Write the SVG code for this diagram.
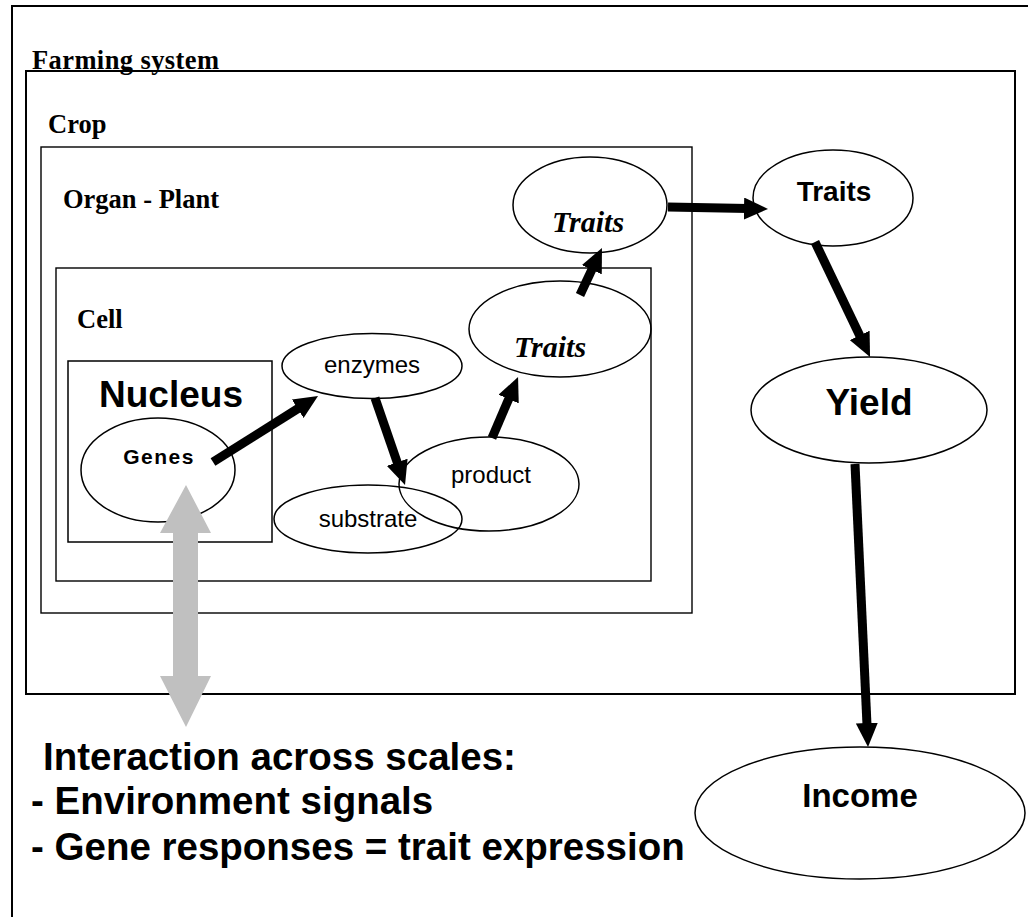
<svg xmlns="http://www.w3.org/2000/svg" width="1028" height="917" viewBox="0 0 1028 917">
  <defs>
    <style>
      .frame { fill: none; stroke: #000; }
      .node { fill: none; stroke: #000; stroke-width: 1.5; }
      .scale { font-family: "Liberation Serif", "Times New Roman", serif; font-weight: bold; font-size: 26.5px; fill: #000; }
      .sans { font-family: "Liberation Sans", Arial, sans-serif; fill: #000; text-anchor: middle; }
      .bold { font-weight: bold; }
      .trait-it { font-family: "Liberation Serif", "Times New Roman", serif; font-weight: bold; font-style: italic; font-size: 30px; text-anchor: middle; fill: #000; }
      .note { font-family: "Liberation Sans", Arial, sans-serif; font-weight: bold; font-size: 38.5px; fill: #000; }
      .flow { stroke: #000; stroke-width: 9; fill: none; marker-end: url(#head); }
    </style>
    <marker id="head" viewBox="0 0 24 22" refX="4" refY="11" markerWidth="24" markerHeight="22" markerUnits="userSpaceOnUse" orient="auto">
      <path d="M0,0 L24,11 L0,22 z" fill="#000"/>
    </marker>
  </defs>

  <rect x="0" y="0" width="1028" height="917" fill="#fff"/>

  <!-- nested scale boxes -->
  <g id="outer-frame">
    <rect class="frame" x="12" y="6" width="1030" height="930" stroke-width="2"/>
  </g>
  <g id="farming-system">
    <rect class="frame" x="26" y="71" width="989" height="623" stroke-width="2"/>
    <text class="scale" x="32" y="69" letter-spacing="0.4">Farming system</text>
  </g>
  <g id="crop">
    <rect class="frame" x="41" y="147" width="651" height="466" stroke-width="1.4"/>
    <text class="scale" x="48" y="133">Crop</text>
  </g>
  <g id="organ-plant">
    <text class="scale" x="63" y="208">Organ - Plant</text>
  </g>
  <g id="cell">
    <rect class="frame" x="56" y="268" width="595" height="313" stroke-width="1.4"/>
    <text class="scale" x="77" y="328">Cell</text>
  </g>
  <g id="nucleus">
    <rect class="frame" x="68" y="361" width="204" height="181" stroke-width="1.5"/>
    <text class="sans bold" x="171" y="407" font-size="37">Nucleus</text>
  </g>

  <!-- entities -->
  <g id="genes">
    <ellipse class="node" cx="158" cy="470" rx="77" ry="52"/>
    <text class="sans bold" x="159" y="464" font-size="21" letter-spacing="1.5">Genes</text>
  </g>
  <g id="enzymes">
    <ellipse class="node" cx="372" cy="366" rx="90" ry="32.5"/>
    <text class="sans" x="372" y="373" font-size="24">enzymes</text>
  </g>
  <g id="substrate">
    <ellipse class="node" cx="368" cy="519" rx="94" ry="34"/>
    <text class="sans" x="368" y="527" font-size="24">substrate</text>
  </g>
  <g id="product">
    <ellipse class="node" cx="489" cy="484" rx="90" ry="47"/>
    <text class="sans" x="491" y="483" font-size="24">product</text>
  </g>
  <g id="traits-cell">
    <ellipse class="node" cx="560" cy="329" rx="91" ry="48"/>
    <text class="trait-it" x="550" y="357">Traits</text>
  </g>
  <g id="traits-organ">
    <ellipse class="node" cx="590" cy="205" rx="77" ry="48"/>
    <text class="trait-it" x="588" y="232">Traits</text>
  </g>
  <g id="traits-crop">
    <ellipse class="node" cx="833" cy="198" rx="80" ry="48"/>
    <text class="sans bold" x="834" y="201" font-size="28">Traits</text>
  </g>
  <g id="yield">
    <ellipse class="node" cx="869" cy="410" rx="118" ry="53"/>
    <text class="sans bold" x="869" y="415" font-size="37">Yield</text>
  </g>
  <g id="income">
    <ellipse class="node" cx="860" cy="813" rx="165" ry="66"/>
    <text class="sans bold" x="860" y="807" font-size="33">Income</text>
  </g>

  <!-- connectors -->
  <g id="connectors">
    <line class="flow" x1="213" y1="462" x2="301.1" y2="406.6"/>
    <line class="flow" x1="375" y1="398" x2="398.5" y2="466.1"/>
    <line class="flow" x1="492" y1="438" x2="510.2" y2="395.4"/>
    <line class="flow" x1="580" y1="295" x2="593.5" y2="266.1"/>
    <line class="flow" x1="668" y1="207" x2="748" y2="208.6"/>
    <line class="flow" x1="815" y1="242" x2="861.4" y2="339"/>
    <line class="flow" x1="855" y1="464" x2="867.1" y2="727"/>
    <!-- two-way interaction arrow across scales -->
    <polygon fill="#c0c0c0" points="186,485 211,533 198,533 198,676 211,676 186,727 160,676 173,676 173,533 160,533"/>
  </g>

  <g id="interaction-note">
    <text class="note" x="43" y="770">Interaction across scales:</text>
    <text class="note" x="31" y="814">- Environment signals</text>
    <text class="note" x="31" y="860">- Gene responses = trait expression</text>
  </g>
</svg>
